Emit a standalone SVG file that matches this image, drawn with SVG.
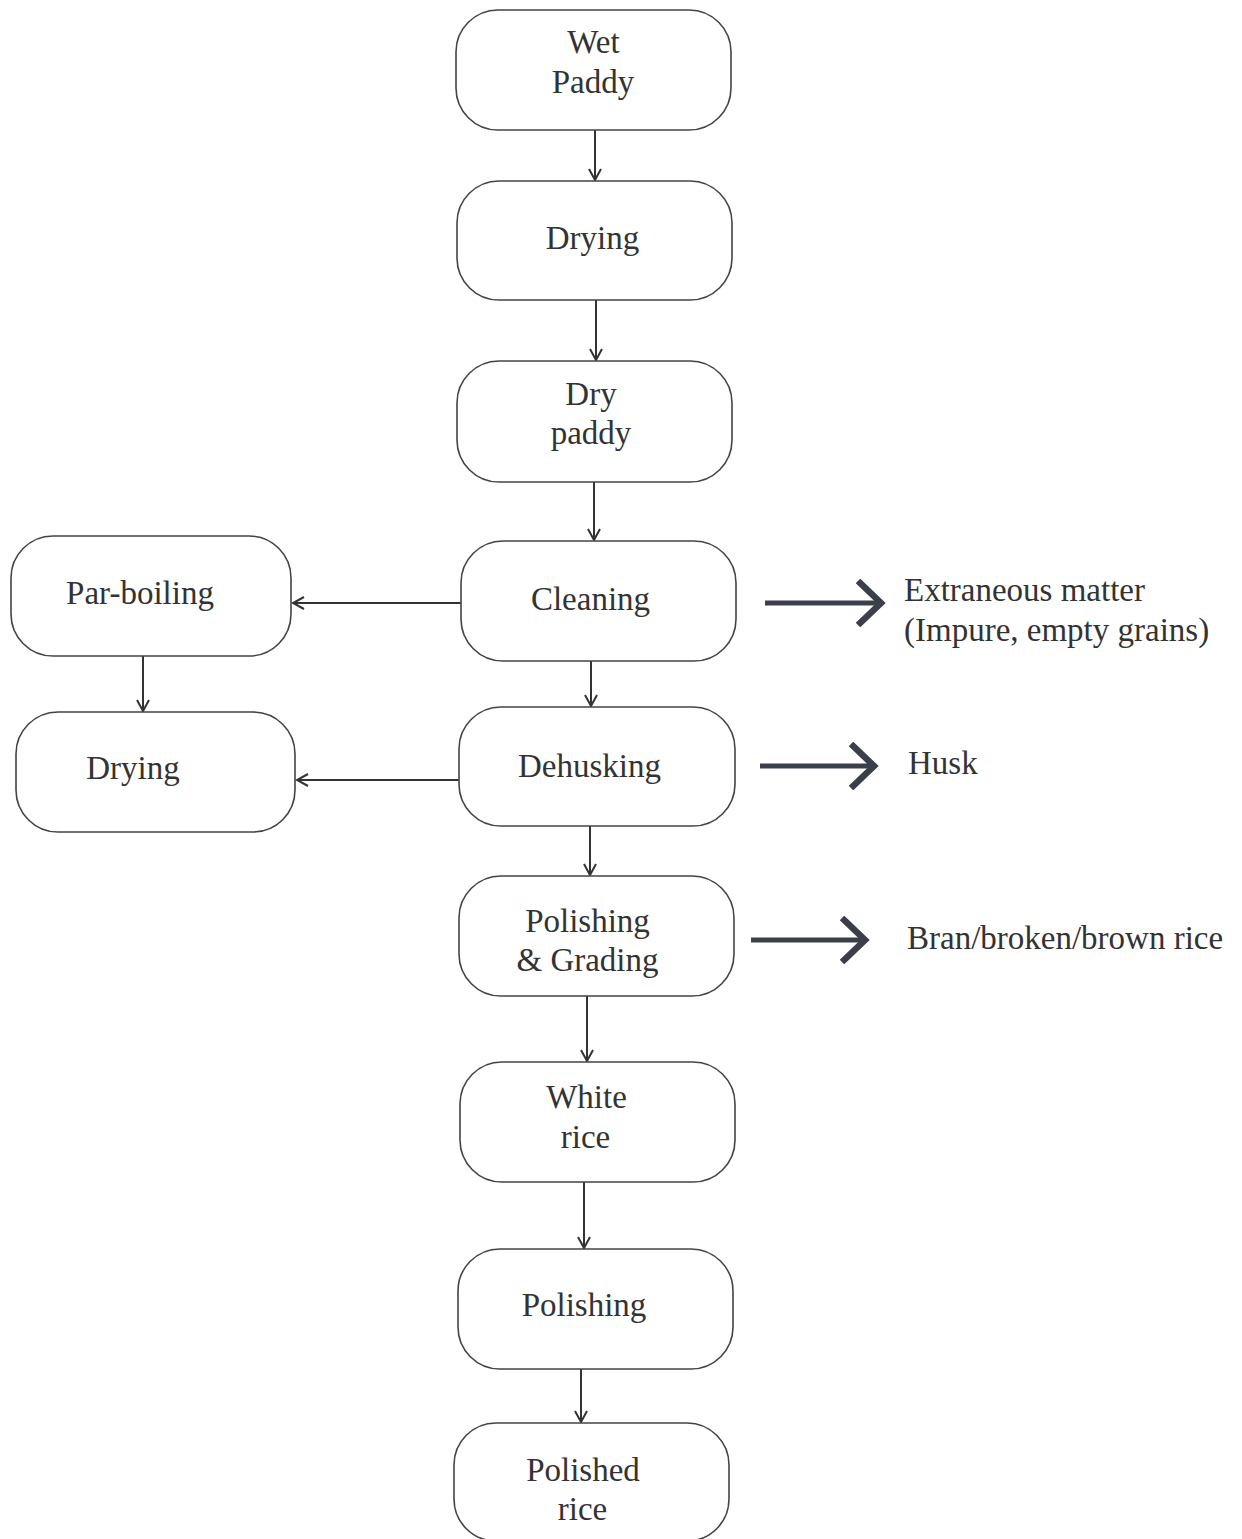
<svg xmlns="http://www.w3.org/2000/svg" width="1242" height="1539" viewBox="0 0 1242 1539">
<defs>
<style>
.box{fill:#fff;stroke:#444;stroke-width:1.6}
.t{font-size:33px;fill:#333;text-anchor:middle}
.tl{font-size:33px;fill:#333}
.c{stroke:#333;stroke-width:2;fill:none}
.ck{stroke:#3a3f4a;stroke-width:5;fill:none}
</style>
<marker id="a" markerWidth="14" markerHeight="14" refX="12" refY="7" orient="auto" markerUnits="userSpaceOnUse" viewBox="0 0 14 14">
<path d="M1,1 L12,7 L1,13" fill="none" stroke="#333" stroke-width="2"/>
</marker>
<marker id="b" markerWidth="30" markerHeight="48" refX="25" refY="24" orient="auto" markerUnits="userSpaceOnUse" viewBox="0 0 30 48">
<path d="M2,2 L25,24 L2,46" fill="none" stroke="#3a3f4a" stroke-width="6.5"/>
</marker>
</defs>
<rect width="1242" height="1539" fill="#fff"/>
<g id="connectors">
<line class="c" x1="595" y1="130" x2="595" y2="180" marker-end="url(#a)"/>
<line class="c" x1="596" y1="300" x2="596" y2="360" marker-end="url(#a)"/>
<line class="c" x1="594" y1="482" x2="594" y2="540" marker-end="url(#a)"/>
<line class="c" x1="591" y1="661" x2="591" y2="706" marker-end="url(#a)"/>
<line class="c" x1="590" y1="826" x2="590" y2="875" marker-end="url(#a)"/>
<line class="c" x1="587" y1="996" x2="587" y2="1061" marker-end="url(#a)"/>
<line class="c" x1="584" y1="1182" x2="584" y2="1248" marker-end="url(#a)"/>
<line class="c" x1="581" y1="1369" x2="581" y2="1422" marker-end="url(#a)"/>
<line class="c" x1="463" y1="603" x2="293" y2="603" marker-end="url(#a)"/>
<line class="c" x1="460" y1="780" x2="297" y2="780" marker-end="url(#a)"/>
<line class="c" x1="143" y1="656" x2="143" y2="711" marker-end="url(#a)"/>
<line class="ck" x1="765" y1="603" x2="881" y2="603" marker-end="url(#b)"/>
<line class="ck" x1="760" y1="766" x2="874" y2="766" marker-end="url(#b)"/>
<line class="ck" x1="751" y1="940" x2="865" y2="940" marker-end="url(#b)"/>
</g>
<g font-family="'Liberation Serif', serif">
<g id="wet-paddy"><rect class="box" x="456" y="10" width="275" height="120" rx="42"/><text class="t" x="593.5" y="53">Wet</text><text class="t" x="593" y="93">Paddy</text></g>
<g id="drying"><rect class="box" x="457" y="181" width="275" height="119" rx="42"/><text class="t" x="592.5" y="249">Drying</text></g>
<g id="dry-paddy"><rect class="box" x="457" y="361" width="275" height="121" rx="42"/><text class="t" x="591" y="405">Dry</text><text class="t" x="591" y="444">paddy</text></g>
<g id="cleaning"><rect class="box" x="461" y="541" width="275" height="120" rx="42"/><text class="t" x="590.5" y="610">Cleaning</text></g>
<g id="dehusking"><rect class="box" x="459" y="707" width="276" height="119" rx="42"/><text class="t" x="589.5" y="777">Dehusking</text></g>
<g id="polishing-grading"><rect class="box" x="459" y="876" width="275" height="120" rx="42"/><text class="t" x="587.5" y="932">Polishing</text><text class="t" x="587.5" y="971">&amp; Grading</text></g>
<g id="white-rice"><rect class="box" x="460" y="1062" width="275" height="120" rx="42"/><text class="t" x="586.5" y="1108">White</text><text class="t" x="585.5" y="1148">rice</text></g>
<g id="polishing"><rect class="box" x="458" y="1249" width="275" height="120" rx="42"/><text class="t" x="584" y="1316">Polishing</text></g>
<g id="polished-rice"><rect class="box" x="454" y="1423" width="275" height="118" rx="42"/><text class="t" x="583" y="1481">Polished</text><text class="t" x="582.5" y="1520">rice</text></g>
<g id="par-boiling"><rect class="box" x="11" y="536" width="280" height="120" rx="42"/><text class="t" x="140" y="604">Par-boiling</text></g>
<g id="drying-left"><rect class="box" x="16" y="712" width="279" height="120" rx="42"/><text class="t" x="133" y="779">Drying</text></g>
<g id="extraneous"><text class="tl" x="904" y="601">Extraneous matter</text><text class="tl" x="904" y="641">(Impure, empty grains)</text></g>
<g id="husk"><text class="tl" x="908" y="774">Husk</text></g>
<g id="bran"><text class="tl" x="907" y="949">Bran/broken/brown rice</text></g>
</g>
</svg>
